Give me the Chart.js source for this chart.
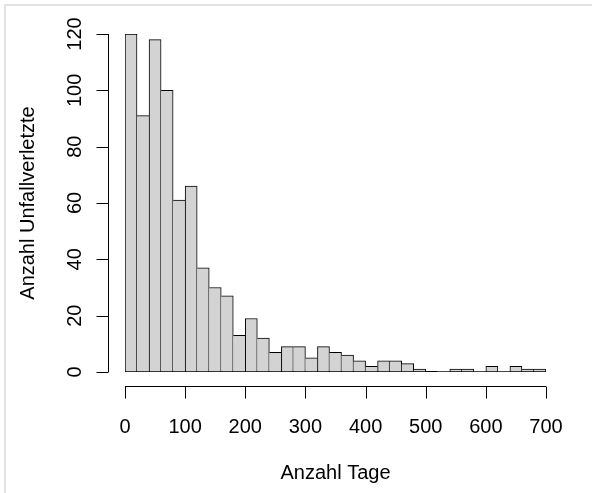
<!DOCTYPE html>
<html>
<head>
<meta charset="utf-8">
<script src="https://cdn.jsdelivr.net/npm/chart.js@4/dist/chart.umd.min.js"></script>
<style>
  html, body { margin: 0; padding: 0; background: #fff; overflow: hidden; }
  #wrap { position: relative; width: 592px; height: 493px; }
  #frame { position: absolute; left: 4px; top: 4px; right: -10px; bottom: -10px;
           border-left: 2px solid #e3e3e3; border-top: 2px solid #e3e3e3; }
  canvas { position: absolute; left: 0; top: 0; }
</style>
</head>
<body>
<div id="wrap">
  <div id="frame"></div>
  <canvas id="histChart" width="592" height="493"></canvas>
</div>
<script>
// histogram bins (width 20 days), left edges
const binWidth = 20;
const binStarts = [0, 20, 40, 60, 80, 100, 120, 140, 160, 180,
                   200, 220, 240, 260, 280, 300, 320, 340, 360, 380,
                   400, 420, 440, 460, 480, 500, 520, 540, 560, 580,
                   600, 620, 640, 660, 680];
const counts = [120, 91, 118, 100, 61, 66, 37, 30, 27, 13,
                19, 12, 7, 9, 9, 5, 9, 7, 6, 4,
                2, 4, 4, 3, 1, 0, 0, 1, 1, 0,
                2, 0, 2, 1, 1];

const xTicks = [0, 100, 200, 300, 400, 500, 600, 700];
const yTicks = [0, 20, 40, 60, 80, 100, 120];
const xTitle = 'Anzahl Tage';
const yTitle = 'Anzahl Unfallverletzte';

const FONT = '20px "Liberation Sans", Arial, Helvetica, sans-serif';

// shared edge between two bars is drawn once, by the taller one
function barBorder(c) {
  const i = c.dataIndex;
  const h = counts[i];
  const prev = i > 0 ? counts[i - 1] : -1;
  const next = i < counts.length - 1 ? counts[i + 1] : -1;
  return { top: 1, bottom: 1, left: prev < h ? 1 : 0, right: next <= h ? 1 : 0 };
}

// R-style detached axes
const rAxes = {
  id: 'rAxes',
  beforeDatasetsDraw(chart) {
    const { ctx, scales: { x, y } } = chart;
    // baseline under empty bins
    ctx.save();
    ctx.strokeStyle = '#000';
    ctx.lineWidth = 1;
    const yb = Math.round(y.getPixelForValue(0)) - 0.5;
    ctx.beginPath();
    ctx.moveTo(x.getPixelForValue(binStarts[0]), yb);
    ctx.lineTo(x.getPixelForValue(binStarts[binStarts.length - 1] + binWidth), yb);
    ctx.stroke();
    ctx.restore();
  },
  afterDraw(chart) {
    const { ctx, chartArea, scales: { x, y } } = chart;
    ctx.save();
    ctx.strokeStyle = '#000';
    ctx.fillStyle = '#000';
    ctx.lineWidth = 1;
    ctx.font = FONT;

    // x axis
    const ax = Math.round(chartArea.bottom + 14) + 0.5;
    ctx.beginPath();
    ctx.moveTo(x.getPixelForValue(xTicks[0]), ax);
    ctx.lineTo(x.getPixelForValue(xTicks[xTicks.length - 1]), ax);
    xTicks.forEach(v => {
      const px = Math.round(x.getPixelForValue(v)) + 0.5;
      ctx.moveTo(px, ax);
      ctx.lineTo(px, ax + 12);
    });
    ctx.stroke();
    ctx.textAlign = 'center';
    ctx.textBaseline = 'alphabetic';
    xTicks.forEach(v => {
      ctx.fillText(String(v), x.getPixelForValue(v), ax + 46);
    });
    ctx.fillText(xTitle, (chartArea.left + chartArea.right) / 2, ax + 92);

    // y axis
    const ay = Math.round(chartArea.left - 17) + 0.5;
    ctx.beginPath();
    ctx.moveTo(ay, y.getPixelForValue(yTicks[0]));
    ctx.lineTo(ay, y.getPixelForValue(yTicks[yTicks.length - 1]));
    yTicks.forEach(v => {
      const py = Math.round(y.getPixelForValue(v)) + 0.5;
      ctx.moveTo(ay, py);
      ctx.lineTo(ay - 12, py);
    });
    ctx.stroke();
    yTicks.forEach(v => {
      ctx.save();
      ctx.translate(ay - 28, y.getPixelForValue(v));
      ctx.rotate(-Math.PI / 2);
      ctx.fillText(String(v), 0, 0);
      ctx.restore();
    });
    ctx.save();
    ctx.translate(ay - 75, (chartArea.top + chartArea.bottom) / 2);
    ctx.rotate(-Math.PI / 2);
    ctx.fillText(yTitle, 0, 0);
    ctx.restore();

    ctx.restore();
  }
};

const ctx = document.getElementById('histChart');
new Chart(ctx, {
  type: 'bar',
  data: {
    datasets: [{
      data: binStarts.map((s, i) => ({ x: s + binWidth / 2, y: counts[i] })),
      backgroundColor: '#d3d3d3',
      borderColor: '#000',
      borderWidth: barBorder,
      borderSkipped: false,
      barPercentage: 1,
      categoryPercentage: 1
    }]
  },
  options: {
    responsive: false,
    animation: false,
    layout: { padding: { left: 125, right: 46, top: 34, bottom: 121 } },
    plugins: { legend: { display: false }, tooltip: { enabled: false } },
    scales: {
      x: { type: 'linear', min: 0, max: 700, offset: false, display: false, ticks: { stepSize: 100 } },
      y: { min: 0, max: 120, display: false }
    }
  },
  plugins: [rAxes]
});
</script>
</body>
</html>
